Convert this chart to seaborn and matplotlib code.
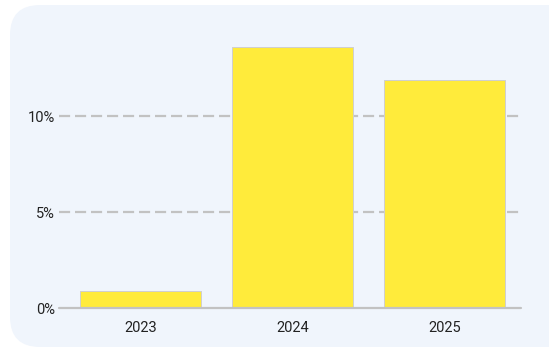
import matplotlib
matplotlib.use("Agg")
import matplotlib.pyplot as plt
from matplotlib.patches import FancyBboxPatch
import seaborn as sns
import pandas as pd

years = ["2023", "2024", "2025"]
values = [0.9, 13.6, 11.9]
yticks = [0, 5, 10]
ytick_labels = ["0%", "5%", "10%"]

sns.set_theme(style="white")
plt.rcParams["font.family"] = ["Roboto", "DejaVu Sans"]

W, H = 549, 347
fig = plt.figure(figsize=(W / 100, H / 100), dpi=100)
fig.patch.set_facecolor("white")

# background axes with rounded panel
bg = fig.add_axes([0, 0, 1, 1], zorder=-10)
bg.set_xlim(0, W)
bg.set_ylim(H, 0)
bg.axis("off")
panel = FancyBboxPatch((10, 5), 570, 342,
                       boxstyle="round,pad=0,rounding_size=30",
                       facecolor="#f0f5fc", edgecolor="none")
bg.add_patch(panel)

left, right = 64.5 / W, 520.5 / W
y0 = 308
ymax = 14.6
px_per = 19.2
top_px = y0 - ymax * px_per
ax = fig.add_axes([left, 1 - y0 / H, right - left, (y0 - top_px) / H], zorder=1)
ax.set_facecolor("none")

df = pd.DataFrame({"year": years, "value": values})
sns.barplot(data=df, x="year", y="value", ax=ax, color="#ffeb3b",
            saturation=1, width=0.8, edgecolor="#cfcfcf", linewidth=0.7,
            zorder=3)

ax.set_xlim(-0.5, 2.5)
ax.set_ylim(0, ymax)
ax.set_yticks(yticks)
ax.set_yticklabels(ytick_labels)
for y in yticks[1:]:
    ax.axhline(y, xmin=-0.012, xmax=1.0, color="#c2c2c2", lw=1.6,
               ls=(0, (5, 2.2)), zorder=1, clip_on=False)
ax.axhline(0, xmin=-0.012, xmax=1.0, color="#c2c2c2", lw=1.6, zorder=4,
           clip_on=False)
for s in ax.spines.values():
    s.set_visible(False)
ax.set_xlabel("")
ax.set_ylabel("")
ax.tick_params(axis="both", length=0, labelsize=10.5, colors="#222222")
ax.tick_params(axis="y", pad=7)
ax.tick_params(axis="x", pad=9)

fig.savefig("out.png", dpi=100, facecolor="white")
